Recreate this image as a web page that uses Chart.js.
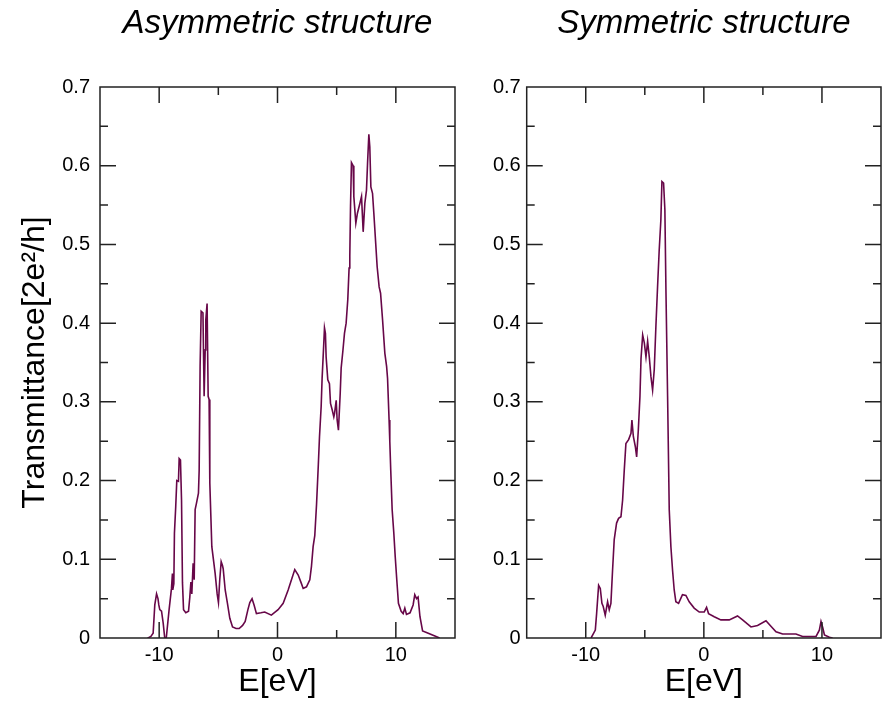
<!DOCTYPE html>
<html>
<head>
<meta charset="utf-8">
<script src="https://cdn.jsdelivr.net/npm/chart.js@4/dist/chart.umd.min.js"></script>
<style>
  html, body { margin: 0; padding: 0; background: #fff; }
  #wrap { position: relative; width: 882px; height: 705px; overflow: hidden; }
  canvas { position: absolute; left: 0; top: 0; }
</style>
</head>
<body>
<div id="wrap">
  <canvas id="cLeft" width="882" height="705"></canvas>
  <canvas id="cRight" width="882" height="705"></canvas>
</div>
<script>
// ---------- data ----------
const titleLeft = 'Asymmetric structure';
const titleRight = 'Symmetric structure';
const xAxisTitle = 'E[eV]';
const yAxisTitle = 'Transmittance[2e\u00B2/h]';

const xTickValues = [-10, 0, 10];
const xMinorValues = [-5, 5];
const yTickValues = [0, 0.1, 0.2, 0.3, 0.4, 0.5, 0.6, 0.7];
const yTickLabels = ['0', '0.1', '0.2', '0.3', '0.4', '0.5', '0.6', '0.7'];
const yMinorValues = [0.05, 0.15, 0.25, 0.35, 0.45, 0.55, 0.65];

const energyAsym = [
  -11.0, -10.94, -10.7, -10.51, -10.37, -10.22, -10.1, -10.03, -9.95, -9.8,
  -9.66, -9.53, -9.4, -9.16, -8.96, -8.88, -8.85, -8.76, -8.71, -8.6,
  -8.51, -8.37, -8.31, -8.2, -8.11, -8.03, -7.94, -7.75, -7.52, -7.41,
  -7.32, -7.24, -7.13, -7.04, -6.96, -6.85, -6.68, -6.62, -6.54, -6.45,
  -6.3, -6.2, -6.11, -6.06, -5.95, -5.86, -5.78, -5.72, -5.55, -5.27,
  -5.1, -4.99, -4.88, -4.76, -4.65, -4.59, -4.42, -4.23, -4.03, -3.8,
  -3.5, -3.24, -2.95, -2.73, -2.5, -2.34, -2.15, -1.98, -1.78, -1.4,
  -1.08, -0.52, 0.05, 0.48, 0.9, 1.18, 1.46, 1.75, 2.0, 2.17,
  2.45, 2.73, 2.87, 3.01, 3.15, 3.3, 3.45, 3.55, 3.69, 3.77,
  3.91, 3.97, 4.05, 4.11, 4.25, 4.39, 4.48, 4.62, 4.76, 4.82,
  4.96, 5.04, 5.15, 5.3, 5.38, 5.52, 5.66, 5.8, 5.94, 6.05,
  6.11, 6.17, 6.25, 6.39, 6.45, 6.62, 6.76, 6.96, 7.1, 7.24,
  7.38, 7.52, 7.61, 7.72, 7.8, 7.89, 8.03, 8.14, 8.28, 8.42,
  8.59, 8.71, 8.88, 9.07, 9.22, 9.3, 9.43, 9.49, 9.57, 9.69,
  9.83, 9.95, 10.08, 10.22, 10.45, 10.62, 10.76, 10.9, 11.2, 11.46,
  11.6, 11.75, 11.88, 12.04, 12.26, 12.74, 13.4, 13.7
];
const transAsym = [
  0, 0, 0.002, 0.006, 0.042, 0.056, 0.05, 0.042, 0.036, 0.034,
  0.019, 0.0, 0.0, 0.036, 0.063, 0.082, 0.061, 0.069, 0.133, 0.167,
  0.2, 0.199, 0.228, 0.226, 0.175, 0.07, 0.036, 0.032, 0.034, 0.052,
  0.071, 0.056, 0.095, 0.074, 0.163, 0.171, 0.184, 0.213, 0.345, 0.415,
  0.413, 0.307, 0.366, 0.404, 0.425, 0.307, 0.303, 0.197, 0.116, 0.082,
  0.056, 0.045, 0.074, 0.097, 0.092, 0.088, 0.061, 0.044, 0.025, 0.014,
  0.012, 0.012, 0.016, 0.021, 0.036, 0.045, 0.05, 0.042, 0.031, 0.032,
  0.033, 0.029, 0.036, 0.044, 0.061, 0.074, 0.087, 0.08, 0.07, 0.063,
  0.065, 0.074, 0.091, 0.116, 0.13, 0.17, 0.22, 0.256, 0.294, 0.33,
  0.374, 0.394, 0.387, 0.357, 0.328, 0.323, 0.298, 0.29, 0.281, 0.285,
  0.302, 0.277, 0.264, 0.311, 0.343, 0.364, 0.387, 0.4, 0.43, 0.47,
  0.485, 0.548, 0.604, 0.6, 0.561, 0.527, 0.54, 0.552, 0.561, 0.516,
  0.552, 0.569, 0.603, 0.64, 0.624, 0.573, 0.565, 0.54, 0.506, 0.472,
  0.446, 0.438, 0.404, 0.362, 0.345, 0.33, 0.277, 0.25, 0.213, 0.163,
  0.133, 0.103, 0.074, 0.044, 0.034, 0.031, 0.038, 0.03, 0.032, 0.042,
  0.055, 0.05, 0.052, 0.027, 0.009, 0.006, 0.002, 0
];

const energySym = [
  -9.55, -9.19, -9.08, -8.91, -8.77, -8.63, -8.52, -8.35, -8.15, -8.01,
  -7.87, -7.73, -7.59, -7.39, -7.22, -7.02, -6.88, -6.74, -6.6, -6.37,
  -6.17, -6.09, -5.97, -5.8, -5.69, -5.55, -5.41, -5.32, -5.18, -5.04,
  -4.9, -4.76, -4.62, -4.48, -4.34, -4.2, -4.06, -3.92, -3.78, -3.64,
  -3.55, -3.41, -3.3, -3.21, -3.07, -2.93, -2.79, -2.65, -2.51, -2.37,
  -2.14, -1.81, -1.52, -1.24, -0.82, -0.39, 0.03, 0.23, 0.4, 0.88,
  1.44, 2.15, 2.85, 3.28, 3.99, 4.55, 5.26, 5.68, 6.11, 6.67,
  7.8, 8.36, 9.5, 9.78, 9.92, 10.07, 10.21, 10.63, 10.9
];
const transSym = [
  0, 0.01, 0.031, 0.067, 0.063, 0.044, 0.04, 0.029, 0.046, 0.036,
  0.044, 0.086, 0.125, 0.146, 0.152, 0.154, 0.175, 0.213, 0.247, 0.252,
  0.26, 0.277, 0.256, 0.243, 0.23, 0.264, 0.307, 0.355, 0.385, 0.375,
  0.357, 0.377, 0.357, 0.332, 0.315, 0.341, 0.396, 0.446, 0.493, 0.531,
  0.58, 0.578, 0.544, 0.442, 0.307, 0.163, 0.116, 0.086, 0.061, 0.046,
  0.044, 0.055, 0.054, 0.046, 0.038, 0.033, 0.033, 0.039, 0.031, 0.027,
  0.023, 0.023, 0.028, 0.023, 0.014, 0.016, 0.022, 0.015, 0.008, 0.005,
  0.005, 0.002, 0.002, 0.01, 0.021, 0.013, 0.004, 0.001, 0
];

// ---------- styling ----------
const FONT = "'Liberation Sans', Arial, Helvetica, sans-serif";
const LINE_COLOR = 'rgb(103,7,72)';
const FRAME_COLOR = '#222';
Chart.defaults.font.family = FONT;
Chart.defaults.color = '#000';

const framePlugin = {
  id: 'frameTicks',
  afterDraw(chart) {
    const { ctx, chartArea: a, scales } = chart;
    const x = scales.x, y = scales.y;
    ctx.save();
    ctx.strokeStyle = FRAME_COLOR;
    ctx.lineWidth = 1.5;
    ctx.beginPath();
    ctx.rect(a.left, a.top, a.right - a.left, a.bottom - a.top);
    const tickX = (vals, len) => vals.forEach(v => {
      const p = x.getPixelForValue(v);
      ctx.moveTo(p, a.bottom); ctx.lineTo(p, a.bottom - len);
      ctx.moveTo(p, a.top); ctx.lineTo(p, a.top + len);
    });
    const tickY = (vals, len) => vals.forEach(v => {
      const p = y.getPixelForValue(v);
      ctx.moveTo(a.left, p); ctx.lineTo(a.left + len, p);
      ctx.moveTo(a.right, p); ctx.lineTo(a.right - len, p);
    });
    tickX(xTickValues, 16);
    tickX(xMinorValues, 8);
    tickY(yTickValues, 16);
    tickY(yMinorValues, 8);
    ctx.stroke();
    ctx.restore();
  }
};

function makeChart(canvasId, energies, trans, title, opts) {
  const pts = energies.map((e, i) => ({ x: e, y: trans[i] }));
  return new Chart(document.getElementById(canvasId), {
    type: 'line',
    data: {
      datasets: [{
        data: pts,
        borderColor: LINE_COLOR,
        borderWidth: 1.6,
        pointRadius: 0,
        tension: 0,
        fill: false
      }]
    },
    options: {
      responsive: false,
      animation: false,
      events: [],
      layout: { padding: opts.padding },
      plugins: {
        legend: { display: false },
        tooltip: { enabled: false },
        title: {
          display: true,
          text: title,
          fullSize: false,
          color: '#000',
          font: { family: FONT, style: 'italic', weight: 'normal', size: 33, lineHeight: 1.2 },
          padding: { top: 4, bottom: 43.4 }
        }
      },
      scales: {
        x: {
          type: 'linear',
          position: 'bottom',
          min: -15, max: 15,
          afterBuildTicks: s => { s.ticks = xTickValues.map(v => ({ value: v })); },
          afterFit: s => { s.height = 67; },
          grid: { display: false, drawTicks: false },
          border: { display: false },
          ticks: {
            color: '#000',
            padding: 5,
            font: { size: 20, family: FONT },
            callback: v => String(v)
          },
          title: {
            display: true,
            text: xAxisTitle,
            color: '#000',
            font: { size: 32, family: FONT, lineHeight: 1.2 },
            padding: { top: 0, bottom: 4 }
          }
        },
        y: {
          type: 'linear',
          min: 0, max: 0.7,
          afterBuildTicks: s => { s.ticks = yTickValues.map(v => ({ value: v })); },
          afterFit: s => { s.width = opts.yWidth; },
          grid: { display: false, drawTicks: false },
          border: { display: false },
          ticks: {
            color: '#000',
            padding: opts.yPad,
            font: { size: 20, family: FONT },
            callback: (v) => yTickLabels[yTickValues.findIndex(t => Math.abs(t - v) < 1e-9)]
          },
          title: {
            display: opts.yTitle,
            text: yAxisTitle,
            color: '#000',
            font: { size: 32, family: FONT, lineHeight: 1.2 },
            padding: { top: 16, bottom: 0 }
          }
        }
      }
    },
    plugins: [framePlugin]
  });
}

makeChart('cLeft', energyAsym, transAsym, titleLeft, {
  padding: { left: 0, right: 427, top: 0, bottom: 0 },
  yWidth: 100, yPad: 10, yTitle: true
});
makeChart('cRight', energySym, transSym, titleRight, {
  padding: { left: 466.7, right: 1, top: 0, bottom: 0 },
  yWidth: 60, yPad: 6, yTitle: false
});
</script>
</body>
</html>
